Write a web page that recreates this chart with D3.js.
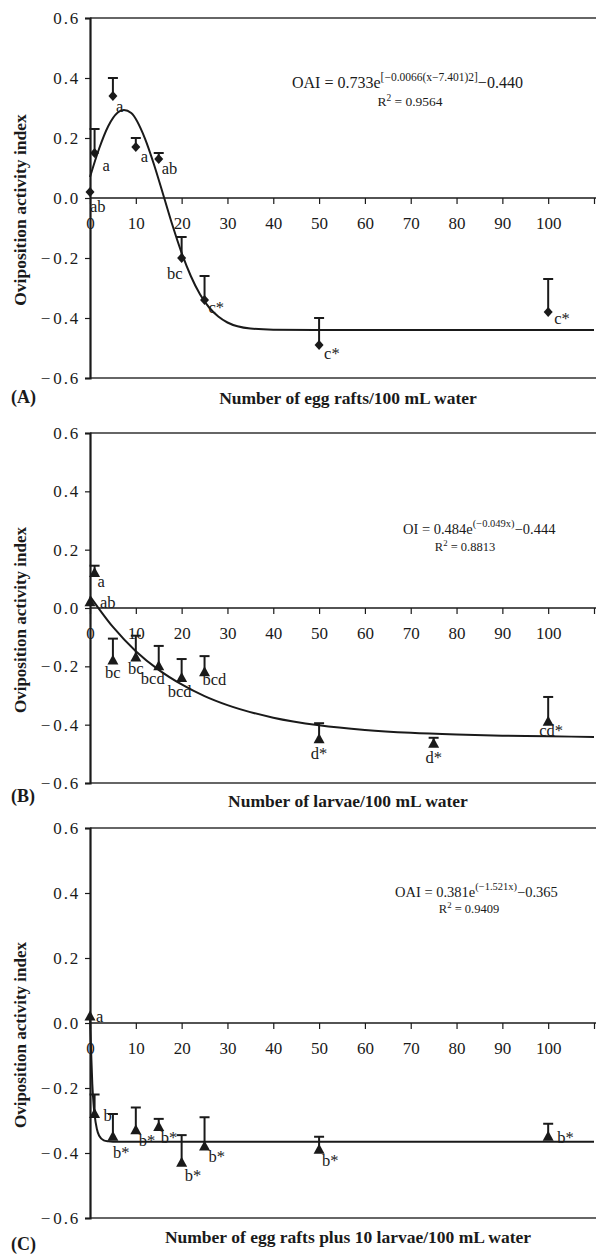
<!DOCTYPE html>
<html>
<head>
<meta charset="utf-8">
<script src="https://cdn.jsdelivr.net/npm/d3@7"></script>
<style>
  body { margin:0; background:#fff; }
  svg { display:block; }
  text { font-family:"Liberation Serif","DejaVu Serif",serif; fill:#1a1a1a; }
</style>
</head>
<body>
<div class="content"></div>
<script>
// --- data ---
// panel A: egg rafts
var xA = [0, 1, 5, 10, 15, 20, 25, 50, 100];
var yA = [0.02, 0.15, 0.34, 0.17, 0.13, -0.20, -0.34, -0.49, -0.38];
var errTopA = [0.03, 0.23, 0.40, 0.20, 0.15, -0.13, -0.26, -0.40, -0.27];
var lettersA = ['ab', 'a', 'a', 'a', 'ab', 'bc', 'c*', 'c*', 'c*'];
var fitXA = [0, 2, 4, 6, 7.4, 9, 12, 14, 16, 18, 20, 22, 24, 26, 28, 30, 35, 40, 50, 110];
var fitYA = [0.07, 0.165, 0.24, 0.284, 0.293, 0.283, 0.198, 0.11, 0.01, -0.091, -0.183, -0.26, -0.321, -0.365, -0.395, -0.415, -0.435, -0.439, -0.44, -0.44];

// panel B: larvae
var xB = [0, 1, 5, 10, 15, 20, 25, 50, 75, 100];
var yB = [0.02, 0.12, -0.18, -0.17, -0.20, -0.24, -0.22, -0.45, -0.465, -0.39];
var errTopB = [0.02, 0.145, -0.105, -0.095, -0.13, -0.175, -0.165, -0.395, -0.445, -0.305];
var lettersB = ['ab', 'a', 'bc', 'bc', 'bcd', 'bcd', 'bcd', 'd*', 'd*', 'cd*'];
var fitXB = [0, 5, 10, 15, 20, 25, 30, 40, 50, 60, 70, 80, 90, 100, 110];
var fitYB = [0.04, -0.065, -0.148, -0.212, -0.262, -0.302, -0.333, -0.376, -0.402, -0.418, -0.428, -0.434, -0.438, -0.44, -0.442];

// panel C: egg rafts plus 10 larvae
var xC = [0, 1, 5, 10, 15, 20, 25, 50, 100];
var yC = [0.02, -0.28, -0.35, -0.33, -0.32, -0.43, -0.38, -0.39, -0.35];
var errTopC = [0.02, -0.22, -0.28, -0.26, -0.295, -0.345, -0.29, -0.35, -0.31];
var lettersC = ['a', 'b', 'b*', 'b*', 'b*', 'b*', 'b*', 'b*', 'b*'];
var fitXC = [0, 0.25, 0.5, 0.75, 1, 1.5, 2, 3, 4, 5, 110];
var fitYC = [0.016, -0.09, -0.187, -0.245, -0.282, -0.326, -0.347, -0.361, -0.364, -0.365, -0.365];

var xTicks = [0, 10, 20, 30, 40, 50, 60, 70, 80, 90, 100, 110];
var xTickLabels = ['0', '10', '20', '30', '40', '50', '60', '70', '80', '90', '100', ''];
var yTicks = [-0.6, -0.4, -0.2, 0, 0.2, 0.4, 0.6];
var yTickLabels = ['\u22120.6', '\u22120.4', '\u22120.2', '0.0', '0.2', '0.4', '0.6'];

// letter placement next to each point [dx, dy, anchor]
var placeA = [[0,14,'start'],[8,12,'start'],[3,10,'start'],[5,9,'start'],[3,9,'start'],[1,15,'end'],[4,7,'start'],[5,8,'start'],[6,6,'start']];
var placeB = [[10,0,'start'],[3,8,'start'],[0,12,'middle'],[0,11,'middle'],[-6,12,'middle'],[-2,13,'middle'],[-2,7,'start'],[0,14,'middle'],[0,14,'middle'],[3,8,'middle']];
var placeC = [[6,0,'start'],[9,1,'start'],[0,15,'start'],[3,10,'start'],[2,10,'start'],[3,12,'start'],[4,10,'start'],[3,10,'start'],[9,0,'start']];

var panels = [
  { tag:'(A)', xTitle:'Number of egg rafts/100 mL water', top:18, bottom:378, marker:'diamond',
    x:xA, y:yA, err:errTopA, letters:lettersA, place:placeA, fx:fitXA, fy:fitYA,
    eq:{ lhs:'OAI = 0.733e', sup:'[\u22120.0066(x\u22127.401)2]', rhs:'\u22120.440', x:292, y:88, size:16, supSize:11.5,
         r2:'0.9564', rx:410, ry:106, rsize:13.5 },
    titleY:404, tagY:403, yTitleSize:17.5 },
  { tag:'(B)', xTitle:'Number of larvae/100 mL water', top:433, bottom:783, marker:'triangle',
    x:xB, y:yB, err:errTopB, letters:lettersB, place:placeB, fx:fitXB, fy:fitYB,
    eq:{ lhs:'OI = 0.484e', sup:'(\u22120.049x)', rhs:'\u22120.444', x:403, y:534, size:14.5, supSize:10.5,
         r2:'0.8813', rx:465, ry:551, rsize:12.5 },
    titleY:807, tagY:802, yTitleSize:17 },
  { tag:'(C)', xTitle:'Number of egg rafts plus 10 larvae/100 mL water', top:828, bottom:1218, marker:'triangle',
    x:xC, y:yC, err:errTopC, letters:lettersC, place:placeC, fx:fitXC, fy:fitYC,
    eq:{ lhs:'OAI = 0.381e', sup:'(\u22121.521x)', rhs:'\u22120.365', x:395, y:897, size:14.5, supSize:10.5,
         r2:'0.9409', rx:469, ry:913, rsize:12.5 },
    titleY:1243, tagY:1250, yTitleSize:17 }
];

var W = 596, H = 1254, left = 90;
var svg = d3.select('.content').append('svg').attr('width', W).attr('height', H);
var x = d3.scaleLinear().domain([0, 110]).range([left, 594]);
var ink = '#1a1a1a';

panels.forEach(function (p) {
  var y = d3.scaleLinear().domain([-0.6, 0.6]).range([p.bottom, p.top]);
  var g = svg.append('g');

  // top / bottom frame lines
  [0.6, -0.6].forEach(function (v) {
    g.append('line').attr('x1', left).attr('x2', W).attr('y1', y(v)).attr('y2', y(v))
      .attr('stroke', '#333').attr('stroke-width', 1.4);
  });

  // y axis
  var yAxis = g.append('g').attr('transform', 'translate(' + left + ',0)')
    .call(d3.axisLeft(y).tickValues(yTicks).tickFormat(function (d, i) { return yTickLabels[i]; })
      .tickSize(5).tickPadding(5));
  yAxis.select('.domain').attr('stroke', ink).attr('stroke-width', 2.2);
  yAxis.selectAll('.tick line').attr('stroke', ink).attr('stroke-width', 1.2);
  yAxis.selectAll('.tick text').attr('font-size', 17).attr('fill', ink)
    .attr('font-family', '"Liberation Serif",serif')
    .each(function (d, i) {
      // wide minus, then slightly spaced digits
      var t = d3.select(this), s = yTickLabels[i];
      t.text(null);
      if (s.charAt(0) === '\u2212') {
        t.append('tspan').text('\u2212');
        s = s.slice(1);
        t.append('tspan').attr('dx', 3).attr('letter-spacing', 1.8).text(s);
      } else {
        t.append('tspan').attr('letter-spacing', 1.8).text(s);
      }
    });

  // x axis at zero
  var xAxis = g.append('g').attr('transform', 'translate(0,' + y(0) + ')')
    .call(d3.axisBottom(x).tickValues(xTicks).tickFormat(function (d, i) { return xTickLabels[i]; })
      .tickSize(6).tickPadding(13).tickSizeOuter(0));
  xAxis.select('.domain').attr('stroke', ink).attr('stroke-width', 1.3).attr('d', 'M' + left + ',0H' + W);
  xAxis.selectAll('.tick line').attr('stroke', ink).attr('stroke-width', 1.2);
  xAxis.selectAll('.tick text').attr('font-size', 17).attr('fill', ink)
    .attr('font-family', '"Liberation Serif",serif');

  // fitted curve
  var line = d3.line().x(function (d) { return x(d[0]); }).y(function (d) { return y(d[1]); })
    .curve(d3.curveMonotoneX);
  g.append('path').datum(p.fx.map(function (v, i) { return [v, p.fy[i]]; }))
    .attr('d', line).attr('fill', 'none').attr('stroke', ink).attr('stroke-width', 2);

  var pts = p.x.map(function (v, i) {
    return { x: v, y: p.y[i], e: p.err[i], l: p.letters[i], pl: p.place[i] };
  });

  // error bars (upper only)
  var eb = g.selectAll('.eb').data(pts.filter(function (d) { return d.e - d.y > 0.012; }))
    .enter().append('g');
  eb.append('line').attr('x1', function (d) { return x(d.x); }).attr('x2', function (d) { return x(d.x); })
    .attr('y1', function (d) { return y(d.y); }).attr('y2', function (d) { return y(d.e); })
    .attr('stroke', ink).attr('stroke-width', 2);
  eb.append('line').attr('x1', function (d) { return x(d.x) - 5; }).attr('x2', function (d) { return x(d.x) + 5; })
    .attr('y1', function (d) { return y(d.e); }).attr('y2', function (d) { return y(d.e); })
    .attr('stroke', ink).attr('stroke-width', 2);

  // markers
  var shape = p.marker === 'diamond'
    ? 'M0,-5L4.5,0L0,5L-4.5,0Z'
    : 'M0,-6L5.5,4L-5.5,4Z';
  g.selectAll('.pt').data(pts).enter().append('path')
    .attr('d', shape).attr('fill', ink)
    .attr('transform', function (d) { return 'translate(' + x(d.x) + ',' + y(d.y) + ')'; });

  // significance letters
  g.selectAll('.lt').data(pts).enter().append('text')
    .attr('x', function (d) { return x(d.x) + d.pl[0]; })
    .attr('y', function (d) { return y(d.y) + d.pl[1]; })
    .attr('dy', '0.35em').attr('text-anchor', function (d) { return d.pl[2]; })
    .attr('font-size', 16.5).text(function (d) { return d.l; });

  // equation
  var eq = g.append('text').attr('x', p.eq.x).attr('y', p.eq.y).attr('font-size', p.eq.size);
  eq.append('tspan').text(p.eq.lhs);
  eq.append('tspan').attr('font-size', p.eq.supSize).attr('dy', -p.eq.size * 0.45).text(p.eq.sup);
  eq.append('tspan').attr('dy', p.eq.size * 0.45).text(p.eq.rhs);
  var r2 = g.append('text').attr('x', p.eq.rx).attr('y', p.eq.ry).attr('text-anchor', 'middle')
    .attr('font-size', p.eq.rsize);
  r2.append('tspan').text('R');
  r2.append('tspan').attr('font-size', p.eq.rsize * 0.7).attr('dy', -p.eq.rsize * 0.4).text('2');
  r2.append('tspan').attr('dy', p.eq.rsize * 0.4).text(' = ' + p.eq.r2);

  // titles
  g.append('text').attr('x', 348).attr('y', p.titleY).attr('text-anchor', 'middle')
    .attr('font-size', 17.5).attr('font-weight', 'bold').text(p.xTitle);
  g.append('text').attr('x', 11).attr('y', p.tagY).attr('font-size', 18).attr('font-weight', 'bold').text(p.tag);
  g.append('text').attr('transform', 'translate(26,' + ((p.top + p.bottom) / 2 + 12) + ') rotate(-90)')
    .attr('text-anchor', 'middle').attr('font-size', p.yTitleSize).attr('font-weight', 'bold')
    .text('Oviposition activity index');
});
</script>
</body>
</html>
